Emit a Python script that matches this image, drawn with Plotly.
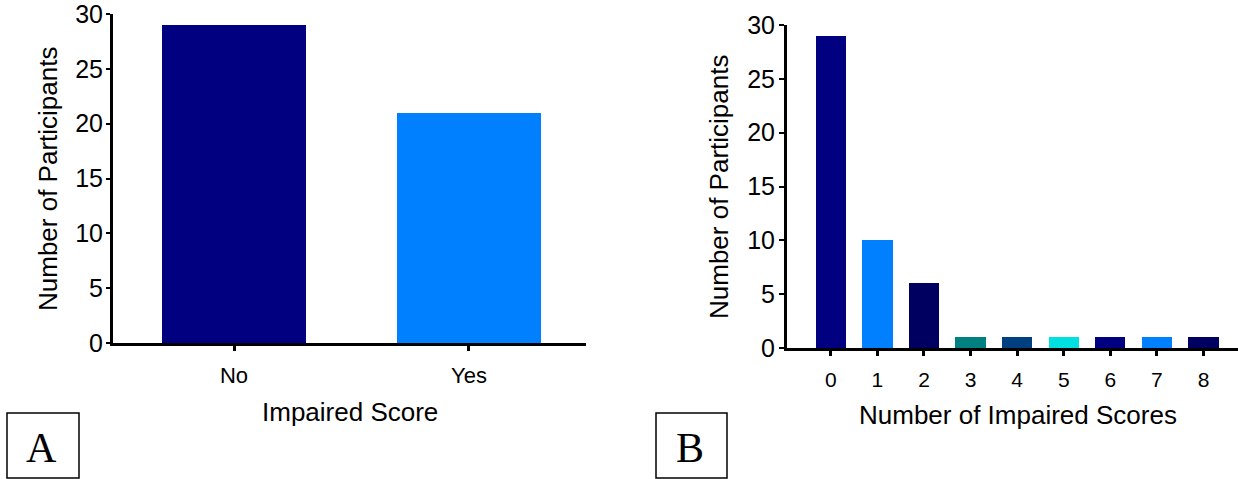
import plotly.graph_objects as go

# Panel A: participants with / without an impaired score
impaired_labels = ["No", "Yes"]
impaired_counts = [29, 21]
impaired_colors = ["#000080", "#0080FF"]

# Panel B: distribution of the number of impaired scores
num_impaired = [0, 1, 2, 3, 4, 5, 6, 7, 8]
num_participants = [29, 10, 6, 1, 1, 1, 1, 1, 1]
num_colors = ["#000080", "#0080FF", "#000060", "#008080", "#004080",
              "#00E0E0", "#000080", "#0080FF", "#000060"]

y_ticks = [0, 5, 10, 15, 20, 25, 30]

W, H = 1238, 479
SANS = "Liberation Sans, Arial, sans-serif"
SERIF = "Liberation Serif, Times New Roman, serif"


def px_x(p):
    return p / W


def px_y(p):
    return 1 - p / H


fig = go.Figure()

fig.add_trace(go.Bar(
    x=impaired_labels, y=impaired_counts, width=0.61,
    marker=dict(color=impaired_colors, line=dict(width=0)),
    xaxis="x", yaxis="y", showlegend=False,
))
fig.add_trace(go.Bar(
    x=num_impaired, y=num_participants, width=0.65,
    marker=dict(color=num_colors, line=dict(width=0)),
    xaxis="x2", yaxis="y2", showlegend=False,
))

axis_common = dict(
    showline=True, linecolor="black", linewidth=3, mirror=False,
    showgrid=False, zeroline=False, ticks="outside", tickcolor="black",
    ticklabeloverflow="allow",
)

fig.update_layout(
    width=W, height=H,
    margin=dict(l=0, r=0, t=0, b=0),
    template="none",
    paper_bgcolor="white", plot_bgcolor="white",
    bargap=0,
    font=dict(family=SANS, color="black"),
    xaxis=dict(
        **axis_common,
        domain=[px_x(113), px_x(586)],
        anchor="y",
        type="category",
        range=[-0.515, 1.498],
        ticklen=5, tickwidth=3,
        tickfont=dict(size=22),
        ticklabelstandoff=6,
    ),
    yaxis=dict(
        **axis_common,
        domain=[px_y(343), px_y(14)],
        anchor="x",
        range=[0, 30],
        tickvals=y_ticks,
        ticklen=4, tickwidth=2,
        tickfont=dict(size=25),
        ticklabelstandoff=-2,
    ),
    xaxis2=dict(
        **axis_common,
        domain=[px_x(787), 1.0],
        anchor="y2",
        range=[-0.94, 8.74],
        tickvals=num_impaired,
        ticklen=5, tickwidth=3,
        tickfont=dict(size=21),
        ticklabelstandoff=6,
    ),
    yaxis2=dict(
        **axis_common,
        domain=[px_y(348), px_y(25)],
        anchor="x2",
        range=[0, 30],
        tickvals=y_ticks,
        ticklen=5, tickwidth=2,
        tickfont=dict(size=25),
        ticklabelstandoff=-1,
    ),
)

# Axis titles
titles = [
    dict(text="Impaired Score", x=px_x(350), y=px_y(412), textangle=0),
    dict(text="Number of Impaired Scores", x=px_x(1018), y=px_y(415), textangle=0),
    dict(text="Number of Participants", x=px_x(48), y=px_y(179), textangle=-90),
    dict(text="Number of Participants", x=px_x(719), y=px_y(187), textangle=-90),
]
for t in titles:
    fig.add_annotation(
        text=t["text"], x=t["x"], y=t["y"], xref="paper", yref="paper",
        xanchor="center", yanchor="middle", textangle=t["textangle"],
        showarrow=False, font=dict(family=SANS, size=26, color="black"),
    )

# Panel letters in boxes
for letter, x0, x1 in [("A", 7, 79), ("B", 656, 727)]:
    fig.add_shape(
        type="rect", xref="paper", yref="paper",
        x0=px_x(x0), x1=px_x(x1), y0=px_y(478), y1=px_y(413),
        line=dict(color="black", width=1.5), fillcolor="rgba(0,0,0,0)",
    )
    fig.add_annotation(
        text=letter, x=px_x((x0 + x1) / 2 - 2), y=px_y(448),
        xref="paper", yref="paper", xanchor="center", yanchor="middle",
        showarrow=False, font=dict(family=SERIF, size=42, color="black"),
    )

fig.write_html("out.html")
